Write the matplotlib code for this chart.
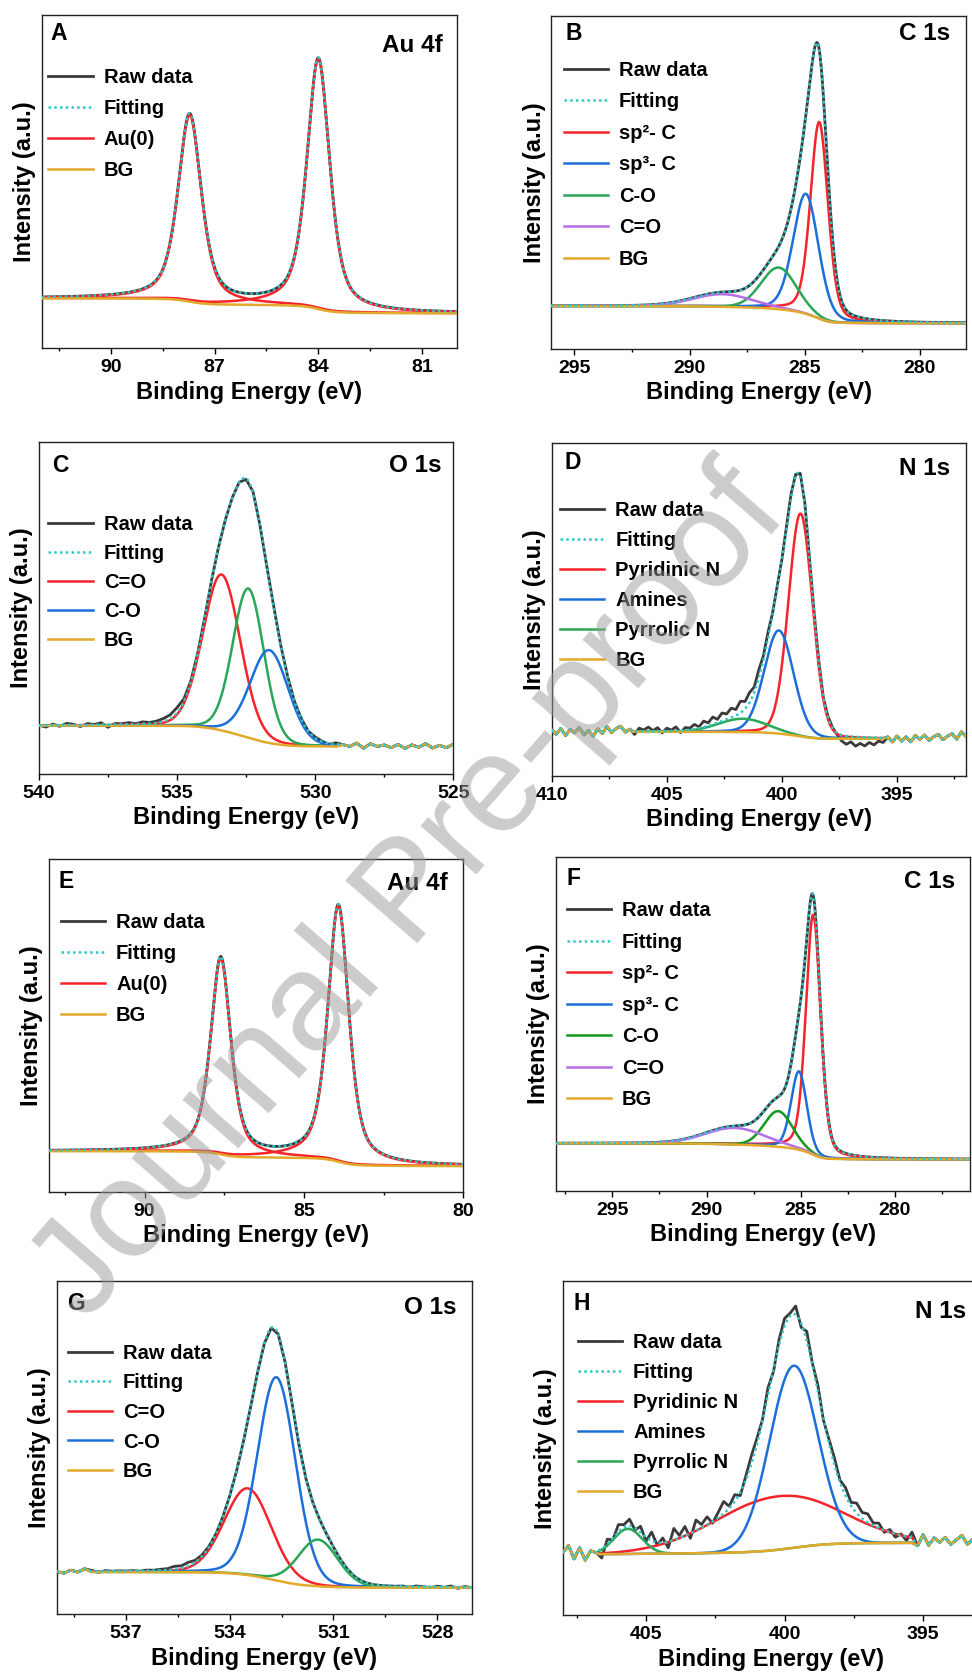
import math
import numpy as np
import matplotlib.pyplot as plt
from matplotlib.ticker import AutoMinorLocator
from matplotlib.lines import Line2D

plt.rcParams['font.family'] = ['Liberation Sans', 'DejaVu Sans']
plt.rcParams['font.weight'] = 'bold'

RAW_C = '#3b3b3b'
FIT_C = '#2ec8c8'
RED = '#f5242a'
BLUE = '#1c6fd9'
GREEN = '#2aa657'
DKGREEN = '#129a1c'
PURPLE = '#b56fe6'
BG_C = '#e2a92b'

# ---------------- data (intensity in % of axis height) ----------------
letters = ['A', 'B', 'C', 'D', 'E', 'F', 'G', 'H']
titles = ['Au 4f', 'C 1s', 'O 1s', 'N 1s', 'Au 4f', 'C 1s', 'O 1s', 'N 1s']
x_limits = [(92, 80), (296, 278), (540, 525), (410, 392),
            (93, 80), (298, 276), (539, 527), (408, 393)]
fit_limits = [(92, 80), (296, 278), (540, 529.2), (406.5, 395.6),
              (93, 80), (298, 276), (538.0, 527), (406.7, 395.4)]
# background level at (high BE end, low BE end) of fit window
bg_levels = [(15.0, 10.5), (12.9, 7.7), (14.6, 8.3), (13.3, 11.2),
             (12.2, 7.7), (14.2, 9.4), (12.7, 8.0), (18.3, 21.7)]
major_ticks = [[90, 87, 84, 81], [295, 290, 285, 280], [540, 535, 530, 525],
               [410, 405, 400, 395], [90, 85, 80], [295, 290, 285, 280],
               [537, 534, 531, 528], [405, 400, 395]]

# fitted components: label, center (eV), height, FWHM (eV), lorentz fraction, colour
a_labels = ['Au(0)', 'Au(0)']
a_centers = [87.72, 84.00]
a_heights = [56, 75]
a_fwhm = [0.80, 0.78]
a_eta = [0.6, 0.6]
a_colors = [RED, RED]

b_labels = ['sp²- C', 'sp³- C', 'C-O', 'C=O']
b_centers = [284.37, 284.95, 286.13, 288.56]
b_heights = [59, 36, 12.5, 3.8]
b_fwhm = [0.90, 1.30, 1.80, 3.00]
b_eta = [0.3, 0.2, 0.1, 0.1]
b_colors = [RED, BLUE, GREEN, PURPLE]

c_labels = ['C=O', None, 'C-O']
c_centers = [533.39, 532.42, 531.66]
c_heights = [47, 45, 28]
c_fwhm = [1.60, 1.33, 1.63]
c_eta = [0.1, 0.1, 0.1]
c_colors = [RED, GREEN, BLUE]

d_labels = ['Pyridinic N', 'Amines', 'Pyrrolic N']
d_centers = [399.19, 400.13, 401.70]
d_heights = [67, 31, 4.0]
d_fwhm = [1.23, 1.50, 2.50]
d_eta = [0.1, 0.1, 0.0]
d_colors = [RED, BLUE, GREEN]

e_labels = ['Au(0)', 'Au(0)']
e_centers = [87.61, 83.92]
e_heights = [59, 77]
e_fwhm = [0.75, 0.78]
e_eta = [0.6, 0.6]
e_colors = [RED, RED]

f_labels = ['sp²- C', 'sp³- C', 'C-O', 'C=O']
f_centers = [284.33, 285.09, 286.19, 288.49]
f_heights = [72, 23.5, 10.7, 5.0]
f_fwhm = [0.92, 0.98, 1.77, 3.70]
f_eta = [0.3, 0.2, 0.1, 0.1]
f_colors = [RED, BLUE, DKGREEN, PURPLE]

g_labels = ['C=O', 'C-O', None]
g_centers = [533.48, 532.65, 531.45]
g_heights = [26, 61, 14]
g_fwhm = [1.60, 1.30, 1.35]
g_eta = [0.1, 0.1, 0.1]
g_colors = [RED, BLUE, GREEN]

h_labels = ['Pyridinic N', 'Amines', 'Pyrrolic N']
h_centers = [400.24, 399.67, 405.66]
h_heights = [16, 54.5, 7.5]
h_fwhm = [5.30, 2.05, 1.20]
h_eta = [0.0, 0.0, 0.0]
h_colors = [RED, BLUE, GREEN]

# raw-data residuals (evenly spaced across x range)
c_resid = [0.0, -0.6, 0.3, -0.4, 0.5, 0.2, -0.5, 0.4, 0.1, 0.6, -0.8, 0.3, 0.2,
           0.5, 0.1, 0.6, 0.3, 0.5, 0.9, 1.2, 1.6, 0.8, 0.3, 0.2, 0.0, 0.0,
           -0.2, 0.0, 0.3, 0.2, -0.3, 0.4, 0.0, -0.2, 0.2, 0.0, 0.1, 0.0, 0.2,
           0.0, 0.3, 0.1, -0.3, 0.4, 0.0, -0.5, 0.6, -0.9, 0.5, -0.3, 0.2,
           -0.6, 0.4, -0.8, 0.3, -0.4, 0.7, -0.6, 0.2, -0.5, 0.6]
d_resid = [0.5, -0.8, 1.0, -1.2, 0.6, -0.4, 1.2, -1.0, 0.3, -1.4, 0.8, -0.6,
           1.5, -0.3, 0.9, 1.6, -0.2, 0.7, -0.9, 1.0, 0.4, 1.3, 0.2, 1.1, -0.5,
           0.9, 0.3, 1.2, -0.6, 0.8, 0.5, 1.4, 0.4, 1.8, 0.9, 2.2, 1.0, 2.4,
           1.6, 2.8, 1.8, 3.5, 2.2, 3.0, 1.6, 2.5, 1.2, 1.8, 0.6, 1.0, 0.4,
           0.8, 1.2, 0.5, 1.0, 0.8, -0.5, 0.3, 0.6, -0.2, 0.4, 0.2, -0.5, -1.8,
           -2.5, -1.6, -2.8, -1.9, -2.6, -1.5, -2.2, -1.0, -1.4, 0.3, -1.2, 0.6,
           -0.9, 0.4, -1.1, 0.8, -0.3, 1.0, -0.6, 0.5, 1.2, -0.4, 0.7, 1.4,
           -0.2, 2.0, 0.6]
g_resid = [0.0, -0.5, 0.4, -0.2, 0.8, 0.3, -0.3, 0.2, 0.0, 0.1, 0.0, 0.1,
           -0.1, 0.2, 0.1, 0.3, 0.4, 0.9, 0.7, 1.1, 0.6, 0.4, 0.2, 0.0,
           0.0, 0.0, 0.0, 0.0, 0.0, 0.0, 0.0, 0.0, 0.0, 0.0, 0.0, 0.0, 0.0,
           0.0, 0.0, 0.0, 0.0, 0.0, 0.0, 0.0, 0.0, 0.0, 0.0, 0.0, 0.0, 0.0,
           0.1, -0.2, 0.2, 0.0, -0.3, 0.2, -0.1, 0.3, -0.4, 0.2, -0.2]
h_resid = [0.5, 2.5, -1.5, 1.8, -2.0, 0.6, -0.4, -2.8, 1.5, -0.5, 2.2, 0.8,
           2.0, -0.6, 1.8, -1.2, 2.6, -0.8, 1.4, -1.8, 3.5, 0.8, 2.8, -1.5,
           3.2, 1.0, 2.4, -0.5, 1.6, 3.6, 0.6, 2.0, -1.0, 1.2, 2.5, 1.8, 0.4,
           2.2, -0.8, 1.6, 2.4, 0.8, 2.6, -1.2, 2.8, 0.4, 1.8, -0.6, 1.2, 2.0,
           0.6, 2.4, 1.0, 3.0, 1.8, 2.6, 0.8, 1.5, -0.6, 0.8, -1.0, 0.4, -1.2,
           1.6, -2.2, 1.4, -1.6, 0.8, -0.4, 1.2, -0.8, 0.6, 2.0, -0.6, 1.0, -0.5]

components = [
    (a_labels, a_centers, a_heights, a_fwhm, a_eta, a_colors),
    (b_labels, b_centers, b_heights, b_fwhm, b_eta, b_colors),
    (c_labels, c_centers, c_heights, c_fwhm, c_eta, c_colors),
    (d_labels, d_centers, d_heights, d_fwhm, d_eta, d_colors),
    (e_labels, e_centers, e_heights, e_fwhm, e_eta, e_colors),
    (f_labels, f_centers, f_heights, f_fwhm, f_eta, f_colors),
    (g_labels, g_centers, g_heights, g_fwhm, g_eta, g_colors),
    (h_labels, h_centers, h_heights, h_fwhm, h_eta, h_colors),
]
residuals = [None, None, c_resid, d_resid, None, None, g_resid, h_resid]

# ---------------- layout (pixels in the 972 x 1677 figure) ----------------
FIG_W, FIG_H = 972, 1677
axes_px = [(41.7, 15.0, 456.7, 348.3), (551.3, 15.7, 966.0, 349.0),
           (39.0, 442.3, 453.3, 774.0), (551.7, 443.3, 966.0, 776.0),
           (49.0, 859.0, 463.3, 1191.7), (556.0, 857.3, 970.0, 1190.7),
           (57.0, 1281.0, 471.7, 1614.3), (563.0, 1281.3, 978.5, 1615.3)]
letter_px = [(17, 18), (22, 18), (21, 23), (21, 19), (17, 23), (18, 21), (19, 23), (19, 22)]
title_px = [(14, 30), (16, 18), (12, 23), (16, 25), (16, 25), (15, 24), (15, 26), (12, 30)]
legend_px = [(6.6, 63, 31), (12.4, 55, 31.5), (9.3, 83, 29), (8.3, 68, 30),
             (11.7, 64, 31), (10.7, 54, 31.5), (10.7, 73, 29.5), (14.7, 62, 30)]


def pv(x, c, h, w, eta):
    u = (x - c) / w
    return h * (eta / (1 + 4 * u ** 2) + (1 - eta) * np.exp(-4 * np.log(2) * u ** 2))


def pv_cum(x, c, h, w, eta):
    gam = w / 2
    sig = w / (2 * np.sqrt(2 * np.log(2)))
    x = np.atleast_1d(x)
    lor = gam * (np.arctan((x - c) / gam) + np.pi / 2)
    erf = np.array([math.erf(v) for v in (x - c) / (sig * np.sqrt(2))])
    gau = sig * np.sqrt(np.pi / 2) * (1 + erf)
    return h * (eta * lor + (1 - eta) * gau)


def shirley(x, peaks, lo, hi, y_hi, y_lo):
    xc = np.clip(x, lo, hi)
    cum = lambda v: sum(pv_cum(v, *p) for p in peaks)
    a_lo, a_hi = cum(lo), cum(hi)
    return y_lo + (y_hi - y_lo) * (cum(xc) - a_lo) / (a_hi - a_lo)


fig = plt.figure(figsize=(FIG_W / 100, FIG_H / 100), dpi=100)

for i in range(8):
    l, t, r, b = axes_px[i]
    aw, ah = r - l, b - t
    ax = fig.add_axes([l / FIG_W, 1 - b / FIG_H, aw / FIG_W, ah / FIG_H])

    labels, cens, hts, fw, et, cols = components[i]
    peaks = [(c, h, w, e) for c, h, w, e in zip(cens, hts, fw, et)]
    x_hi, x_lo = x_limits[i]
    f_hi, f_lo = fit_limits[i]
    y_hi, y_lo = bg_levels[i]

    def model(x):
        return shirley(x, peaks, f_lo, f_hi, y_hi, y_lo) + sum(pv(x, *p) for p in peaks)

    x_fit = np.linspace(f_hi, f_lo, 1200)
    bg_fit = shirley(x_fit, peaks, f_lo, f_hi, y_hi, y_lo)
    res = residuals[i]
    if res is None:
        raw_x = x_fit
        raw_y = model(x_fit)
    else:
        raw_x = np.linspace(x_hi, x_lo, len(res))
        raw_y = model(raw_x) + np.array(res)
    left = raw_x > f_hi
    right = raw_x < f_lo

    def stitch(y_inside):
        xs = np.concatenate([raw_x[left], x_fit, raw_x[right]])
        ys = np.concatenate([raw_y[left], y_inside, raw_y[right]])
        return xs, ys

    ax.plot(raw_x, raw_y, color=RAW_C, lw=2.0, zorder=2)
    for p, col in zip(peaks, cols):
        ax.plot(*stitch(pv(x_fit, *p) + bg_fit), color=col, lw=1.8, zorder=3)
    ax.plot(*stitch(bg_fit), color=BG_C, lw=1.8, zorder=4)
    ax.plot(*stitch(model(x_fit)), color=FIT_C, lw=1.8, ls=(0, (1, 1.3)), zorder=5)

    ax.set_xlim(x_hi, x_lo)
    ax.set_ylim(0, 100)
    ax.set_yticks([])
    ax.set_xticks(major_ticks[i])
    ax.xaxis.set_minor_locator(AutoMinorLocator(2))
    ax.tick_params(axis='x', which='major', direction='out', length=4, width=1,
                   labelsize=14, pad=4)
    ax.tick_params(axis='x', which='minor', direction='out', length=2.5, width=1)
    for lab in ax.get_xticklabels():
        lab.set_fontweight('bold')
    for sp in ax.spines.values():
        sp.set_linewidth(1.0)
        sp.set_color('#222222')
    ax.set_xlabel('Binding Energy (eV)', fontsize=17, fontweight='bold', labelpad=3)
    ax.set_ylabel('Intensity (a.u.)', fontsize=17, fontweight='bold', labelpad=4)

    lx, ly = letter_px[i]
    ax.text(lx / aw, 1 - ly / ah, letters[i], transform=ax.transAxes,
            fontsize=16.5, fontweight='bold', ha='center', va='center')
    tx, ty = title_px[i]
    ax.text(1 - tx / aw, 1 - ty / ah, titles[i], transform=ax.transAxes,
            fontsize=17.5, fontweight='bold', ha='right', va='center')

    handles = [Line2D([], [], color=RAW_C, lw=2.0),
               Line2D([], [], color=FIT_C, lw=1.8, ls=(0, (1, 1.3)))]
    names = ['Raw data', 'Fitting']
    for lab, col in zip(labels, cols):
        if lab is None or lab in names:
            continue
        handles.append(Line2D([], [], color=col, lw=1.8))
        names.append(lab)
    handles.append(Line2D([], [], color=BG_C, lw=1.8))
    names.append('BG')

    gx, gy, pitch = legend_px[i]
    fs_px = 14.5 * 100 / 72
    ax.legend(handles, names, loc='upper left',
              bbox_to_anchor=(gx / aw, 1 - (gy - 10) / ah),
              frameon=False, prop={'size': 14.5, 'weight': 'bold'},
              handlelength=2.2, handletextpad=0.55,
              labelspacing=(pitch - 19) / fs_px, borderpad=0, borderaxespad=0)

fig.text(0.423, 0.466, 'Journal Pre-proof', rotation=49, fontsize=100,
         color='#9a9a9a', alpha=0.5, ha='center', va='center',
         fontweight='normal', zorder=100)

fig.savefig('out.png', dpi=100)
